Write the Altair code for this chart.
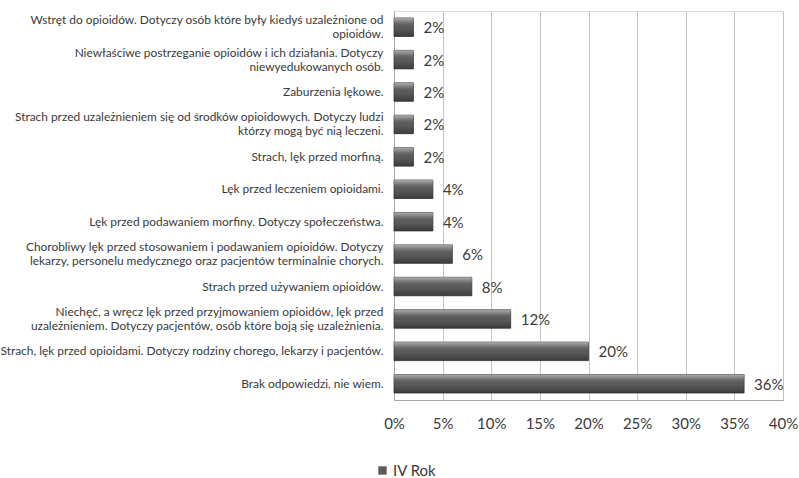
import altair as alt
import pandas as pd

# Answer categories, top to bottom; "\n" marks a manual line break
categories = [
    "Wstręt do opioidów. Dotyczy osób które były kiedyś uzależnione od\nopioidów.",
    "Niewłaściwe postrzeganie opioidów i ich działania. Dotyczy\nniewyedukowanych osób.",
    "Zaburzenia lękowe.",
    "Strach przed uzależnieniem się od środków opioidowych. Dotyczy ludzi\nktórzy mogą być nią leczeni.",
    "Strach, lęk przed morfiną.",
    "Lęk przed leczeniem opioidami.",
    "Lęk przed podawaniem morfiny. Dotyczy społeczeństwa.",
    "Chorobliwy lęk przed stosowaniem i podawaniem opioidów. Dotyczy\nlekarzy, personelu medycznego oraz pacjentów terminalnie chorych.",
    "Strach przed używaniem opioidów.",
    "Niechęć, a wręcz lęk przed przyjmowaniem opioidów, lęk przed\nuzależnieniem. Dotyczy pacjentów, osób które boją się uzależnienia.",
    "Strach, lęk przed opioidami. Dotyczy rodziny chorego, lekarzy i pacjentów.",
    "Brak odpowiedzi, nie wiem.",
]
percentages = [2, 2, 2, 2, 2, 4, 4, 6, 8, 12, 20, 36]
series_name = "IV Rok"
x_ticks = [0, 5, 10, 15, 20, 25, 30, 35, 40]

df = pd.DataFrame({"answer": categories, "value": percentages, "series": series_name})

FONT = "Lato"
TEXT = "#3a3a3a"
LINE_H = 14

y_enc = alt.Y(
    "answer:N",
    sort=categories,
    title=None,
    scale=alt.Scale(paddingInner=0.43, paddingOuter=0.215),
    axis=alt.Axis(
        labelExpr="split(datum.label, '\\n')",
        labelFont=FONT,
        labelFontSize=11.9,
        labelLineHeight=LINE_H,
        labelColor=TEXT,
        labelPadding=11,
        labelLimit=0,
        # lift two-line labels so both lines sit around the bar's centre
        labelOffset={
            "condition": {"test": "indexof(datum.label, '\\n') >= 0", "value": -LINE_H / 2},
            "value": 0,
        },
        ticks=False,
        domainColor="#a6a6a6",
        grid=False,
    ),
)
x_enc = alt.X(
    "value:Q",
    title=None,
    scale=alt.Scale(domain=[0, 40], nice=False),
    axis=alt.Axis(
        values=x_ticks,
        labelExpr="datum.value + '%'",
        labelFont=FONT,
        labelFontSize=15,
        labelColor=TEXT,
        labelPadding=16,
        labelFlush=False,
        labelOverlap=False,
        ticks=False,
        domainColor="#a6a6a6",
        grid=True,
        gridColor="#c4c4c4",
    ),
)

base = alt.Chart(df)

bars = base.mark_bar(stroke="#3c3c3c", strokeWidth=0.8).encode(
    x=x_enc,
    y=y_enc,
    color=alt.Color(
        "series:N",
        scale=alt.Scale(range=["#5b5b5b"]),
        legend=alt.Legend(
            title=None,
            orient="none",
            legendX=-19,
            legendY=452,
            padding=0,
            symbolType="square",
            symbolSize=70,
            symbolStrokeWidth=0,
            labelFont=FONT,
            labelFontSize=15,
            labelColor=TEXT,
            labelOffset=3,
        ),
    ),
)

# Bevel shading laid over each bar: light top edge, dark bottom edge
sheen = base.mark_bar(
    color=alt.Gradient(
        gradient="linear",
        stops=[
            alt.GradientStop(color="rgba(255,255,255,0.5)", offset=0),
            alt.GradientStop(color="rgba(255,255,255,0.15)", offset=0.25),
            alt.GradientStop(color="rgba(0,0,0,0)", offset=0.55),
            alt.GradientStop(color="rgba(0,0,0,0.35)", offset=1),
        ],
        x1=0, x2=0, y1=0, y2=1,
    )
).encode(x="value:Q", y=alt.Y("answer:N", sort=categories))

value_labels = base.mark_text(
    align="left", baseline="middle", dx=10, dy=1, font=FONT, fontSize=15, color=TEXT
).encode(
    x="value:Q",
    y=alt.Y("answer:N", sort=categories),
    text=alt.Text("pct:N"),
).transform_calculate(pct="datum.value + '%'")

chart = (
    alt.layer(bars, sheen, value_labels)
    .properties(
        width=389,
        height=389,
        autosize=alt.AutoSizeParams(type="none"),
        padding={"left": 394, "top": 11, "right": 16, "bottom": 78},
    )
    .configure_view(stroke=None)
    .configure(background="white")
)

chart.save("out.html", embed_options={"renderer": "svg", "actions": False})
